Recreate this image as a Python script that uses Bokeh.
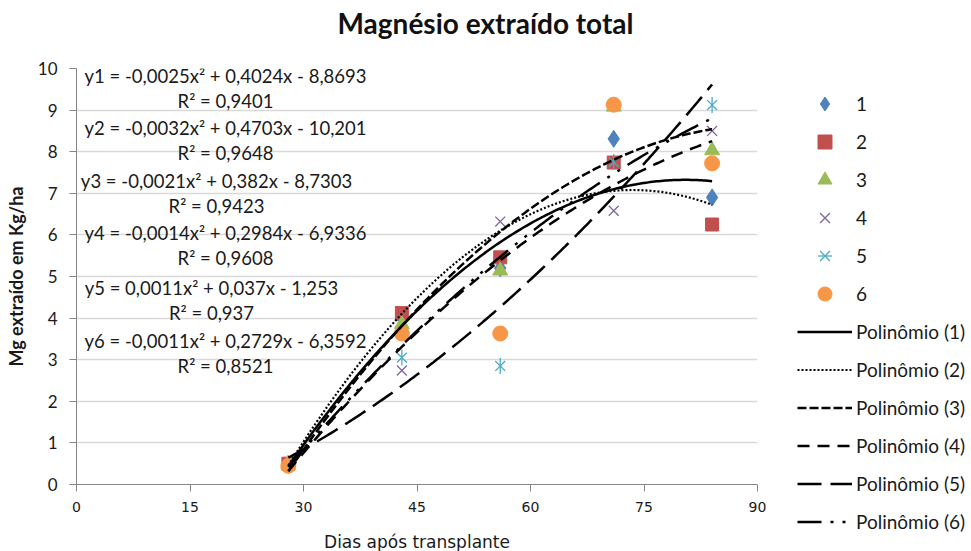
import numpy as np
from bokeh.plotting import figure
from bokeh.models import Legend, LegendItem, Label, Title, FixedTicker, Range1d, LinearAxis
from bokeh.embed import file_html
from bokeh.resources import INLINE

# ---------------- data ----------------
days = [28, 43, 56, 71, 84]
s1 = [0.50, 4.00, 5.20, 8.31, 6.90]
s2 = [0.50, 4.12, 5.46, 7.74, 6.25]
s3 = [0.50, 3.85, 5.14, 9.08, 8.03]
s4 = [0.50, 2.74, 6.32, 6.58, 8.50]
s5 = [0.45, 3.05, 2.85, 7.75, 9.12]
s6 = [0.45, 3.63, 3.63, 9.13, 7.72]
series_names = ["1", "2", "3", "4", "5", "6"]

# trendline coefficients (a, b, c) as shown on the chart
c1 = [-0.0025, 0.4024, -8.8693]
c2 = [-0.0032, 0.4703, -10.201]
c3 = [-0.0021, 0.382, -8.7303]
c4 = [-0.0014, 0.2984, -6.9336]
c5 = [0.0011, 0.037, -1.253]
c6 = [-0.0011, 0.2729, -6.3592]
r2 = ["0,9401", "0,9648", "0,9423", "0,9608", "0,937", "0,8521"]
eq_text = [
    "y1 = -0,0025x² + 0,4024x - 8,8693",
    "y2 = -0,0032x² + 0,4703x - 10,201",
    "y3 = -0,0021x² + 0,382x - 8,7303",
    "y4 = -0,0014x² + 0,2984x - 6,9336",
    "y5 = 0,0011x² + 0,037x - 1,253",
    "y6 = -0,0011x² + 0,2729x - 6,3592",
]
x_ticks = [0, 15, 30, 45, 60, 75, 90]
y_ticks = [0, 1, 2, 3, 4, 5, 6, 7, 8, 9, 10]

FONT = "Lato"
TXT = "#1a1a1a"

p = figure(frame_width=681, frame_height=416, output_backend="svg", toolbar_location=None,
           x_range=Range1d(0, 90), y_range=Range1d(0, 10),
           min_border_left=76, min_border_top=68, min_border_bottom=67, min_border_right=214)
p.background_fill_color = "white"
p.border_fill_color = "white"
p.outline_line_color = None

p.title = Title(text="Magnésio extraído total", align="left", offset=261,
                text_font=FONT, text_font_size="28px", text_font_style="bold",
                text_color="#111111", standoff=4)

# bottom axis (created with the figure)
xa = p.below[0]
xa.ticker = FixedTicker(ticks=x_ticks)

# invisible spacer between the title and the plot area
spacer = LinearAxis(ticker=FixedTicker(ticks=[]), axis_line_color=None,
                    major_tick_line_color=None, minor_tick_line_color=None,
                    major_tick_out=0, major_tick_in=0, major_label_standoff=0,
                    axis_label=".", axis_label_text_alpha=0,
                    axis_label_text_font_size="20px", axis_label_standoff=10)
p.add_layout(spacer, "above")

# axes styling
p.yaxis.ticker = FixedTicker(ticks=y_ticks)
for ax in (xa, p.yaxis[0]):
    ax.axis_line_color = "#868686"
    ax.major_tick_line_color = "#868686"
    ax.minor_tick_line_color = None
    ax.major_tick_in = 0
    ax.major_tick_out = 7
    ax.major_label_text_color = TXT
    ax.axis_label_text_color = TXT
xa.major_label_text_font = "DejaVu Sans"
xa.major_label_text_font_size = "14px"
xa.major_label_standoff = 10
xa.axis_label = "Dias após transplante"
xa.axis_label_text_font = "DejaVu Sans"
xa.axis_label_text_font_style = "normal"
xa.axis_label_text_font_size = "17px"
xa.axis_label_standoff = 17
p.yaxis.major_label_text_font = FONT
p.yaxis.major_label_text_font_size = "17px"
p.yaxis.major_label_standoff = 12
p.yaxis.axis_label = "Mg extraído em Kg/ha"
p.yaxis.axis_label_text_font = FONT
p.yaxis.axis_label_text_font_style = "bold"
p.yaxis.axis_label_text_font_size = "18px"
p.yaxis.axis_label_standoff = 8

p.xgrid.grid_line_color = None
p.ygrid.grid_line_color = "#D9D9D9"
p.ygrid.grid_line_width = 1.5

# markers
colors = ["#4F81BD", "#C0504D", "#9BBB59", "#8064A2", "#4BACC6", "#F79646"]
m1 = p.scatter(days, s1, marker="diamond", size=17, color=colors[0])
m2 = p.scatter(days, s2, marker="square", size=13, color=colors[1])
m3 = p.scatter(days, s3, marker="triangle", size=15, color=colors[2])
m4 = p.scatter(days, s4, marker="x", size=14, line_color=colors[3], line_width=1.3)
m5a = p.scatter(days, s5, marker="x", size=14, line_color=colors[4], line_width=1.3)
m5b = p.scatter(days, s5, marker="dash", size=16, angle=np.pi / 2, line_color=colors[4], line_width=1.3)
m6 = p.scatter(days, s6, marker="circle", size=15, color=colors[5])

# trendlines
xs = np.linspace(min(days), max(days), 200)
coefs = [c1, c2, c3, c4, c5, c6]
dashes = ["solid", "2 2", "9 3", "12 8", "24 9", "24 9 3 9 3 9"]
widths = [2.5, 2.2, 2.5, 2.5, 2.5, 2.5]
lines = []
for c, d, w in zip(coefs, dashes, widths):
    lines.append(p.line(xs, np.polyval(c, xs), line_color="black", line_width=w, line_dash=d))

# equation labels (screen units relative to frame)
eq_centers_x = [149, 149, 140, 149, 135, 149]
eq_y = [75, 127, 180, 232, 287, 340]
for i in range(6):
    p.add_layout(Label(x=eq_centers_x[i], y=484 - eq_y[i], x_units="screen", y_units="screen",
                       text=eq_text[i], text_align="center", text_baseline="middle",
                       text_font=FONT, text_font_size="18.5px", text_color=TXT))
    p.add_layout(Label(x=eq_centers_x[i], y=484 - eq_y[i] - 25, x_units="screen", y_units="screen",
                       text="R² = " + r2[i], text_align="center", text_baseline="middle",
                       text_font=FONT, text_font_size="18.5px", text_color=TXT))

items = [
    LegendItem(label=series_names[0], renderers=[m1]),
    LegendItem(label=series_names[1], renderers=[m2]),
    LegendItem(label=series_names[2], renderers=[m3]),
    LegendItem(label=series_names[3], renderers=[m4]),
    LegendItem(label=series_names[4], renderers=[m5a, m5b]),
    LegendItem(label=series_names[5], renderers=[m6]),
]
for i, ln in enumerate(lines):
    items.append(LegendItem(label="Polinômio (%d)" % (i + 1), renderers=[ln]))

legend = Legend(items=items, location=(40, -55), margin=0, padding=0, spacing=3,
                glyph_width=55, glyph_height=35, label_height=20, label_standoff=4,
                border_line_color=None, background_fill_alpha=0,
                label_text_font=FONT, label_text_font_size="19px", label_text_color=TXT)
p.add_layout(legend, "right")

open("out.html", "w").write(file_html(p, INLINE))
